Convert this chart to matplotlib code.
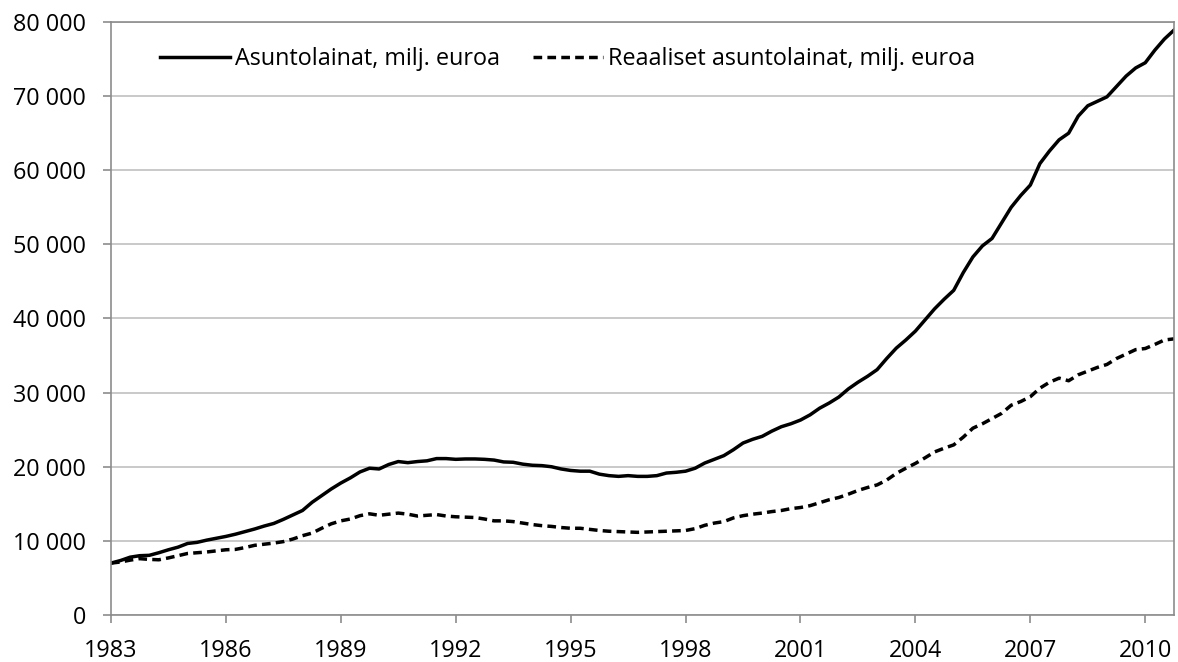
import numpy as np
import matplotlib
matplotlib.use("Agg")
import matplotlib.pyplot as plt
from matplotlib.ticker import FuncFormatter

plt.rcParams['font.family'] = ['Open Sans', 'DejaVu Sans']

# quarterly data, 1983Q1 .. 2010Q4
start_year = 1983
asuntolainat = [
    7000, 7350, 7800, 8000,
    8050, 8400, 8800, 9150,
    9650, 9800, 10100, 10350,
    10600, 10900, 11250, 11600,
    12000, 12350, 12900, 13500,
    14100, 15200, 16100, 17000,
    17800, 18500, 19300, 19800,
    19700, 20300, 20700, 20550,
    20700, 20800, 21100, 21100,
    21000, 21050, 21050, 21000,
    20900, 20650, 20600, 20350,
    20200, 20150, 20000, 19700,
    19500, 19400, 19400, 19000,
    18800, 18700, 18800, 18700,
    18700, 18800, 19150, 19250,
    19400, 19800, 20500, 21000,
    21500, 22300, 23200, 23700,
    24100, 24800, 25400, 25800,
    26300, 27000, 27900, 28600,
    29400, 30500, 31400, 32200,
    33100, 34600, 36000, 37100,
    38300, 39800, 41300, 42600,
    43800, 46200, 48300, 49800,
    50800, 52900, 55000, 56600,
    58000, 60900, 62600, 64100,
    65000, 67300, 68700, 69300,
    69900, 71300, 72700, 73800,
    74500, 76200, 77700, 78900,
]
reaaliset = [
    7000, 7150, 7400, 7600,
    7500, 7450, 7700, 8000,
    8300, 8400, 8500, 8650,
    8800, 8850, 9100, 9400,
    9550, 9700, 9900, 10250,
    10700, 11050, 11700, 12300,
    12700, 12950, 13400, 13650,
    13450, 13600, 13750, 13600,
    13350, 13450, 13550, 13350,
    13250, 13200, 13150, 12950,
    12700, 12700, 12600, 12400,
    12200, 12050, 11950, 11800,
    11700, 11700, 11550, 11400,
    11300, 11250, 11200, 11150,
    11200, 11250, 11300, 11350,
    11400, 11650, 12100, 12400,
    12600, 13100, 13400, 13600,
    13750, 13950, 14100, 14350,
    14500, 14750, 15150, 15550,
    15850, 16300, 16800, 17200,
    17550, 18200, 19100, 19800,
    20450, 21200, 22000, 22500,
    22950, 24000, 25200, 25800,
    26500, 27200, 28300, 28800,
    29450, 30600, 31400, 31950,
    31600, 32400, 32900, 33400,
    33800, 34600, 35200, 35800,
    35950, 36500, 37100, 37250,
]
labels = ["Asuntolainat, milj. euroa", "Reaaliset asuntolainat, milj. euroa"]

t = start_year + np.arange(len(asuntolainat)) / 4

fig = plt.figure(figsize=(11.78, 6.62), dpi=100)
ax = fig.add_axes([0.0942, 0.071, 0.9024, 0.8958])

ax.plot(t, asuntolainat, color='black', lw=2.5, label=labels[0])
ax.plot(t, reaaliset, color='black', lw=2.5, ls=(0, (2.5, 1.5)), label=labels[1])

ax.set_xlim(1983, t[-1])
ax.set_ylim(0, 80000)
ax.set_xticks(np.arange(1983, 2011, 3))
ax.set_yticks(np.arange(0, 80001, 10000))
ax.yaxis.set_major_formatter(FuncFormatter(lambda v, p: f"{int(v):,}".replace(",", " ")))

ax.grid(axis='y', color='#c0c0c0', lw=1.2)
ax.set_axisbelow(True)
for s in ax.spines.values():
    s.set_color('#8c8c8c')
    s.set_linewidth(1.2)
ax.tick_params(colors='#8c8c8c', length=6, width=1.2, labelcolor='black', labelsize=16.8)
ax.tick_params(axis='y', pad=12)
ax.tick_params(axis='x', pad=11)

ax.legend(loc='upper left', bbox_to_anchor=(0.046, 0.958), ncol=2, frameon=False,
          fontsize=16.8, handlelength=3.0, handletextpad=0.2, columnspacing=1.45,
          borderaxespad=0, borderpad=0)

fig.savefig("out.png", dpi=100)
